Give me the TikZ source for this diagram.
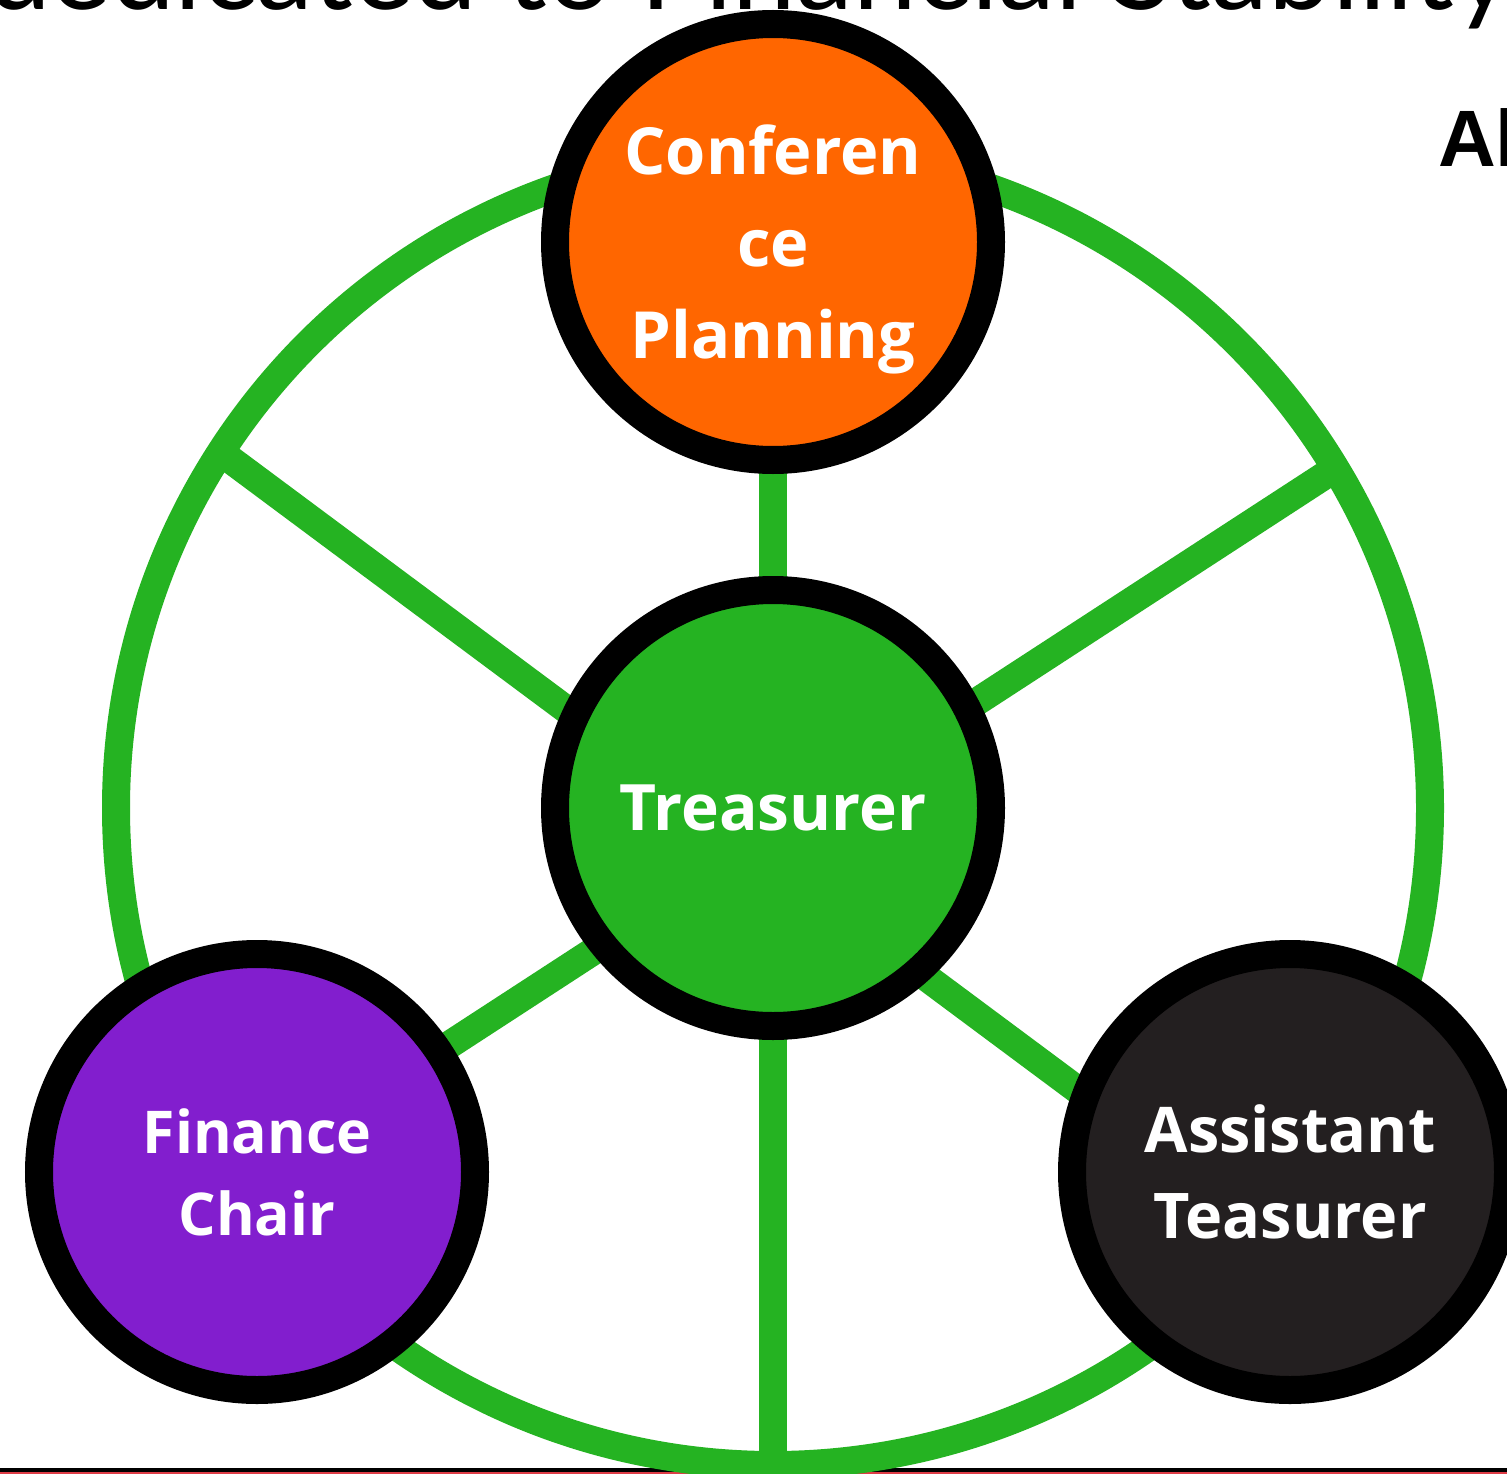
\documentclass[tikz,border=0pt]{standalone}
\usepackage{fontspec}
\newfontfamily\nodefont{Open Sans}
\newfontfamily\topfont{Lato}
\newfontfamily\alfont{Liberation Sans}
\definecolor{ringgreen}{RGB}{37,179,34}
\definecolor{orangefill}{RGB}{255,102,0}
\definecolor{purplefill}{RGB}{130,30,206}
\definecolor{darkfill}{RGB}{35,31,32}
\definecolor{stripred}{RGB}{222,60,70}
\pgfdeclarelayer{bg}
\pgfsetlayers{bg,main}
\tikzset{
  role/.style={circle, draw=black, line width=28pt, minimum size=436pt, inner sep=0pt, align=center, text=white},
  link/.style={draw=ringgreen, line width=28pt},
}
\begin{document}
\begin{tikzpicture}[x=1pt,y=-1pt]
\useasboundingbox (0,0) rectangle (1507,1474);
\node[role, fill=orangefill, text depth=0pt, font=\nodefont\bfseries\fontsize{65}{92}\selectfont] (conf) at (773,242) {Conferen\\ce\\Planning};
\node[role, fill=ringgreen, font=\nodefont\bfseries\fontsize{64}{92}\selectfont] (treas) at (773,808) {Treasurer};
\node[role, fill=purplefill, font=\nodefont\bfseries\fontsize{59}{82}\selectfont] (fin) at (257,1172) {Finance\\Chair};
\node[role, fill=darkfill, font=\nodefont\bfseries\fontsize{63}{86}\selectfont] (asst) at (1290,1172) {Assistant\\Teasurer};
\node[font=\topfont\fontsize{114}{114}\selectfont, anchor=base east, inner sep=0pt] (title) at (1513,10) {dedicated to Financial Stability};
\node[font=\alfont\bfseries\fontsize{80}{80}\selectfont, anchor=base west, inner sep=0pt] (al) at (1438,167) {Al};
\begin{pgfonlayer}{bg}
  \clip (0,0) rectangle (1507,1474);
  \fill[white] (0,0) rectangle (1507,1474);
  \fill[black] (0,1468) rectangle (1507,1471.5);
  \fill[stripred] (0,1471.5) rectangle (1507,1474);
  \coordinate (hub) at (773,808);
  \draw[link] (hub) circle[radius=657];
  \draw[link] (conf.center) -- (treas.center);
  \coordinate (ringBot) at (773,1462);
  \draw[link] (treas.center) -- (ringBot);
  \coordinate (ringUL) at (227,457);
  \coordinate (endUL) at (1270,1233);
  \draw[link] (ringUL) -- (endUL);
  \coordinate (ringUR) at (1330,472);
  \coordinate (endUR) at (240,1181);
  \draw[link] (ringUR) -- (endUR);
\end{pgfonlayer}
\end{tikzpicture}
\end{document}
